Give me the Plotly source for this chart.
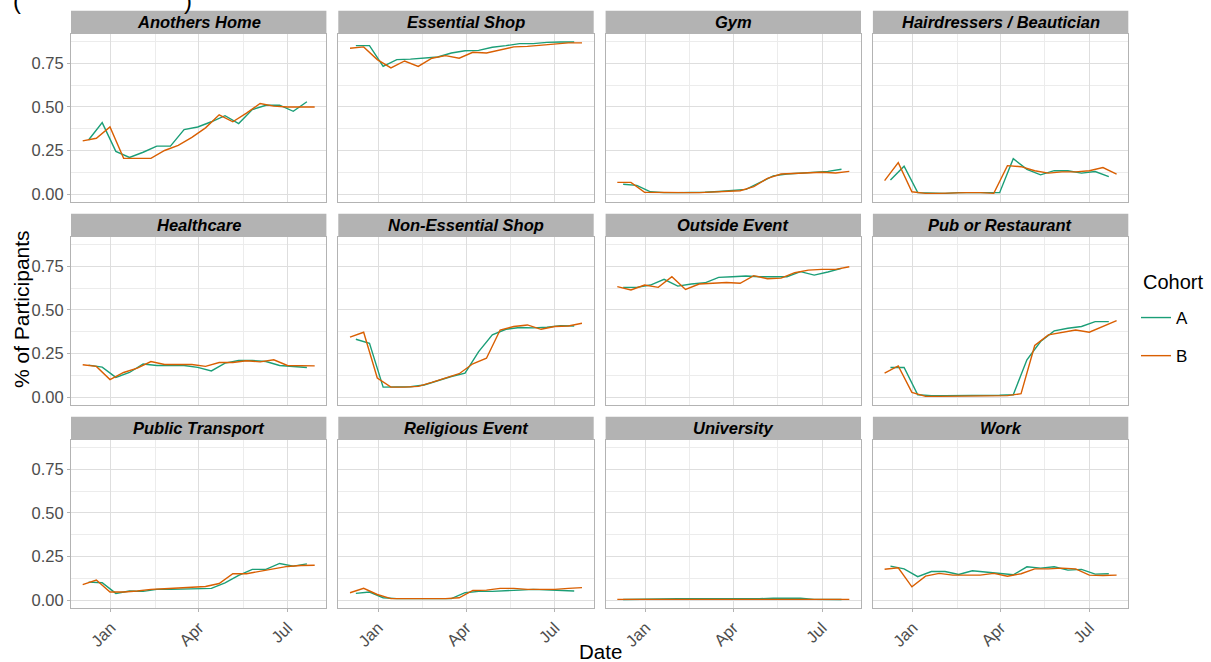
import plotly.graph_objects as go

W, H = 1211, 662

panels = ["Anothers Home", "Essential Shop", "Gym", "Hairdressers / Beautician",
          "Healthcare", "Non-Essential Shop", "Outside Event", "Pub or Restaurant",
          "Public Transport", "Religious Event", "University", "Work"]

dates_a = ["2020-12-09", "2020-12-23", "2021-01-06", "2021-01-20", "2021-02-03", "2021-02-17",
           "2021-03-03", "2021-03-17", "2021-03-31", "2021-04-14", "2021-04-28", "2021-05-12",
           "2021-05-26", "2021-06-09", "2021-06-23", "2021-07-07", "2021-07-21"]
dates_b = ["2020-12-03", "2020-12-17", "2020-12-31", "2021-01-14", "2021-01-28", "2021-02-11",
           "2021-02-25", "2021-03-11", "2021-03-25", "2021-04-08", "2021-04-22", "2021-05-06",
           "2021-05-20", "2021-06-03", "2021-06-17", "2021-07-01", "2021-07-15", "2021-07-29"]

anothers_home_a = [0.31, 0.41, 0.245, 0.21, 0.24, 0.275, 0.275, 0.37, 0.385, 0.415, 0.45, 0.405,
                   0.485, 0.51, 0.51, 0.475, 0.53]
anothers_home_b = [0.305, 0.32, 0.385, 0.205, 0.205, 0.205, 0.25, 0.28, 0.325, 0.38, 0.455, 0.415,
                   0.465, 0.52, 0.505, 0.50, 0.50, 0.50]
essential_shop_a = [0.852, 0.852, 0.733, 0.772, 0.775, 0.78, 0.787, 0.81, 0.823, 0.825, 0.843, 0.852,
                    0.864, 0.864, 0.871, 0.873, 0.873]
essential_shop_b = [0.837, 0.845, 0.772, 0.724, 0.764, 0.733, 0.78, 0.795, 0.78, 0.814, 0.81, 0.829,
                    0.845, 0.848, 0.854, 0.864, 0.868, 0.868]
gym_a = [0.056, 0.05, 0.013, 0.008, 0.008, 0.008, 0.01, 0.015, 0.019, 0.027, 0.065, 0.104,
         0.115, 0.119, 0.125, 0.13, 0.142]
gym_b = [0.067, 0.067, 0.01, 0.008, 0.008, 0.008, 0.008, 0.013, 0.017, 0.019, 0.042, 0.09,
         0.115, 0.119, 0.125, 0.125, 0.121, 0.13]
hair_a = [0.08, 0.16, 0.008, 0.004, 0.004, 0.008, 0.008, 0.004, 0.008, 0.203, 0.142, 0.11,
          0.134, 0.134, 0.12, 0.129, 0.10]
hair_b = [0.077, 0.18, 0.013, 0.004, 0.004, 0.008, 0.008, 0.008, 0.004, 0.163, 0.157, 0.134,
          0.12, 0.127, 0.127, 0.134, 0.152, 0.115]
healthcare_a = [0.183, 0.172, 0.113, 0.141, 0.19, 0.181, 0.181, 0.181, 0.17, 0.15, 0.195, 0.21,
                0.21, 0.204, 0.181, 0.176, 0.17]
healthcare_b = [0.185, 0.176, 0.10, 0.141, 0.166, 0.204, 0.187, 0.187, 0.187, 0.176, 0.198, 0.198,
                0.208, 0.202, 0.214, 0.181, 0.181, 0.179]
non_essential_a = [0.332, 0.309, 0.057, 0.057, 0.059, 0.069, 0.095, 0.118, 0.137, 0.261, 0.357, 0.389,
                   0.399, 0.397, 0.401, 0.41, 0.408]
non_essential_b = [0.344, 0.372, 0.109, 0.057, 0.057, 0.061, 0.084, 0.109, 0.134, 0.191, 0.223, 0.385,
                   0.405, 0.414, 0.389, 0.405, 0.408, 0.424]
outside_a = [0.63, 0.63, 0.643, 0.676, 0.637, 0.649, 0.656, 0.687, 0.691, 0.695, 0.691, 0.691,
             0.691, 0.72, 0.70, 0.718, 0.739]
outside_b = [0.634, 0.615, 0.643, 0.63, 0.691, 0.618, 0.649, 0.653, 0.658, 0.653, 0.697, 0.679,
             0.683, 0.714, 0.729, 0.733, 0.733, 0.748]
pub_a = [0.17, 0.17, 0.013, 0.008, 0.008, 0.008, 0.008, 0.008, 0.01, 0.013, 0.214, 0.319,
         0.38, 0.395, 0.405, 0.433, 0.433]
pub_b = [0.137, 0.179, 0.027, 0.004, 0.004, 0.004, 0.008, 0.008, 0.008, 0.008, 0.019, 0.296,
         0.357, 0.37, 0.385, 0.372, 0.405, 0.439]
transport_a = [0.103, 0.099, 0.038, 0.052, 0.05, 0.061, 0.061, 0.063, 0.061, 0.067, 0.099, 0.141,
               0.176, 0.176, 0.21, 0.195, 0.208]
transport_b = [0.088, 0.115, 0.046, 0.046, 0.052, 0.061, 0.065, 0.069, 0.076, 0.078, 0.095, 0.151,
               0.151, 0.166, 0.179, 0.193, 0.198, 0.20]
religious_a = [0.038, 0.046, 0.013, 0.008, 0.008, 0.008, 0.008, 0.008, 0.042, 0.05, 0.05, 0.052,
               0.057, 0.061, 0.057, 0.052, 0.052]
religious_b = [0.042, 0.067, 0.032, 0.008, 0.008, 0.008, 0.008, 0.008, 0.013, 0.055, 0.057, 0.067,
               0.067, 0.061, 0.061, 0.061, 0.067, 0.071]
university_a = [0.003, 0.003, 0.003, 0.004, 0.007, 0.008, 0.008, 0.008, 0.008, 0.005, 0.008, 0.01,
                0.01, 0.01, 0.004, 0.003, 0.003]
university_b = [0.004, 0.004, 0.004, 0.004, 0.006, 0.007, 0.004, 0.004, 0.004, 0.004, 0.004, 0.006,
                0.008, 0.008, 0.007, 0.004, 0.004, 0.004]
work_a = [0.195, 0.179, 0.134, 0.164, 0.164, 0.147, 0.168, 0.16, 0.153, 0.145, 0.191, 0.183,
          0.191, 0.172, 0.176, 0.149, 0.151]
work_b = [0.177, 0.185, 0.076, 0.137, 0.153, 0.143, 0.143, 0.143, 0.153, 0.137, 0.151, 0.179,
          0.179, 0.183, 0.179, 0.143, 0.141, 0.143]

series_a = [anothers_home_a, essential_shop_a, gym_a, hair_a, healthcare_a, non_essential_a,
            outside_a, pub_a, transport_a, religious_a, university_a, work_a]
series_b = [anothers_home_b, essential_shop_b, gym_b, hair_b, healthcare_b, non_essential_b,
            outside_b, pub_b, transport_b, religious_b, university_b, work_b]

cohorts = ["A", "B"]
colors = {"A": "#1B9E77", "B": "#D95F02"}

x_tickvals = ["2021-01-01", "2021-04-01", "2021-07-01"]
x_ticktext = ["Jan", "Apr", "Jul"]
x_minor = ["2021-02-15 12:00", "2021-05-16 12:00"]
x_range = ["2020-11-21", "2021-08-10"]
y_tickvals = [0, 0.25, 0.5, 0.75]
y_ticktext = ["0.00", "0.25", "0.50", "0.75"]
y_minor = [0.125, 0.375, 0.625, 0.875]
y_range = [-0.044, 0.919]

FONT = "Liberation Sans, Arial, sans-serif"
col_left = [71, 338.3, 605.6, 872.9]
panel_w = 255.4
strip_top = [10.7, 213.7, 416.7]
strip_h = 23.3
panel_h = 167.7

fig = go.Figure()
layout = dict(
    width=W, height=H, margin=dict(l=0, r=0, t=0, b=0),
    paper_bgcolor="white", plot_bgcolor="white",
    font=dict(family=FONT, color="black"),
    showlegend=True,
)
shapes = []
annotations = []

for i, name in enumerate(panels):
    r, c = divmod(i, 4)
    sfx = "" if i == 0 else str(i + 1)
    x0 = col_left[c]
    st = strip_top[r]
    xd = [x0 / W, (x0 + panel_w) / W]
    yd = [1 - (st + strip_h + panel_h) / H, 1 - (st + strip_h) / H]
    layout["xaxis" + sfx] = dict(
        domain=xd, anchor="y" + sfx, type="date", range=x_range,
        tickmode="array", tickvals=x_tickvals, ticktext=x_ticktext,
        showticklabels=(r == 2), tickangle=-45,
        tickfont=dict(size=16.5, color="#4d4d4d", family=FONT),
        ticks="outside" if r == 2 else "", ticklen=3, tickcolor="#b3b3b3",
        showgrid=True, gridcolor="#dedede", gridwidth=1,
        minor=dict(tickmode="array", tickvals=x_minor, showgrid=True,
                   gridcolor="#ececec", gridwidth=0.7),
        showline=True, mirror=True, linecolor="#b3b3b3", linewidth=1,
        zeroline=False, fixedrange=True,
    )
    layout["yaxis" + sfx] = dict(
        domain=yd, anchor="x" + sfx, range=y_range,
        tickmode="array", tickvals=y_tickvals, ticktext=y_ticktext,
        showticklabels=(c == 0),
        tickfont=dict(size=16.5, color="#4d4d4d", family=FONT),
        ticks="outside" if c == 0 else "", ticklen=3, tickcolor="#b3b3b3",
        showgrid=True, gridcolor="#dedede", gridwidth=1,
        minor=dict(tickmode="array", tickvals=y_minor, showgrid=True,
                   gridcolor="#ececec", gridwidth=0.7),
        showline=True, mirror=True, linecolor="#b3b3b3", linewidth=1,
        zeroline=False, fixedrange=True,
    )
    for coh, dates, vals in (("A", dates_a, series_a[i]), ("B", dates_b, series_b[i])):
        fig.add_trace(go.Scatter(
            x=dates, y=vals, mode="lines", name=coh, legendgroup=coh,
            showlegend=(i == 0), line=dict(color=colors[coh], width=1.4),
            xaxis="x" + sfx, yaxis="y" + sfx,
        ))
    # strip
    shapes.append(dict(type="rect", xref="paper", yref="paper",
                       x0=xd[0], x1=xd[1], y0=1 - (st + strip_h) / H, y1=1 - st / H,
                       fillcolor="#b3b3b3", line=dict(width=0), layer="above"))
    annotations.append(dict(text="<b><i>%s</i></b>" % name, xref="paper", yref="paper",
                            x=(xd[0] + xd[1]) / 2, y=1 - (st + strip_h / 2) / H,
                            xanchor="center", yanchor="middle", showarrow=False,
                            font=dict(size=16.5, color="black", family=FONT)))

annotations.append(dict(text="% of Participants", xref="paper", yref="paper",
                        x=22 / W, y=1 - 309 / H, textangle=-90, showarrow=False,
                        xanchor="center", yanchor="middle",
                        font=dict(size=21, color="black", family=FONT)))
annotations.append(dict(text="Date", xref="paper", yref="paper",
                        x=600 / W, y=1 - 651 / H, showarrow=False,
                        xanchor="center", yanchor="middle",
                        font=dict(size=20.5, color="black", family=FONT)))
annotations.append(dict(text="Cohort", xref="paper", yref="paper",
                        x=1141 / W, y=1 - 282 / H, showarrow=False,
                        xanchor="left", yanchor="middle",
                        font=dict(size=20, color="black", family=FONT)))
# cropped title fragment at the very top edge
annotations.append(dict(text="(", xref="paper", yref="paper",
                        x=17 / W, y=1.0, showarrow=False,
                        xanchor="center", yanchor="middle",
                        font=dict(size=24, color="black", family=FONT)))
annotations.append(dict(text=")", xref="paper", yref="paper",
                        x=188 / W, y=1.0, showarrow=False,
                        xanchor="center", yanchor="middle",
                        font=dict(size=24, color="black", family=FONT)))

layout["shapes"] = shapes
layout["annotations"] = annotations
layout["legend"] = dict(
    font=dict(size=17, family=FONT, color="black"),
    x=1136 / W, y=1 - 300 / H, xanchor="left", yanchor="top",
    tracegroupgap=13, bgcolor="rgba(0,0,0,0)",
)
fig.update_layout(**layout)
fig.write_html("out.html", config={"displayModeBar": False},
               post_script="document.body.style.margin='0';document.body.style.overflow='hidden';")
